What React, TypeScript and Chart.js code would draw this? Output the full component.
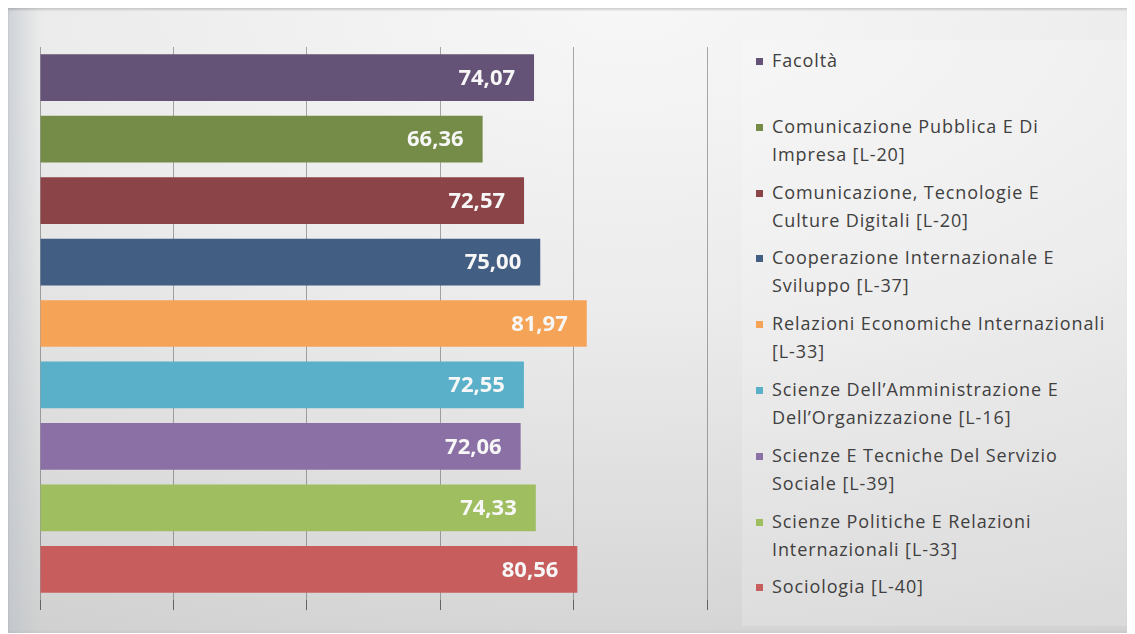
import React, { useEffect, useRef } from "react";
import { Chart, registerables } from "chart.js";

Chart.register(...registerables);

const categories: string[] = [
  "Facoltà",
  "Comunicazione Pubblica E Di\nImpresa [L-20]",
  "Comunicazione, Tecnologie E\nCulture Digitali [L-20]",
  "Cooperazione Internazionale E\nSviluppo [L-37]",
  "Relazioni Economiche Internazionali\n[L-33]",
  "Scienze Dell’Amministrazione E\nDell’Organizzazione [L-16]",
  "Scienze E Tecniche Del Servizio\nSociale [L-39]",
  "Scienze Politiche E Relazioni\nInternazionali [L-33]",
  "Sociologia [L-40]",
];

const values: number[] = [74.07, 66.36, 72.57, 75.0, 81.97, 72.55, 72.06, 74.33, 80.56];

const colors: string[] = [
  "#655277",
  "#758b48",
  "#8b4447",
  "#435e83",
  "#f5a356",
  "#5ab0c8",
  "#8b70a5",
  "#9ebe5f",
  "#c75d5d",
];

const axisMin = 0;
const axisMax = 100;
const axisStep = 20;

const fmt = (v: number) => v.toFixed(2).replace(".", ",");

const labelPlugin = {
  id: "barValueLabels",
  afterDraw(chart: any) {
    const ctx = chart.ctx;
    const meta = chart.getDatasetMeta(0);
    ctx.save();
    ctx.font = "bold 22px 'Open Sans'";
    ctx.fillStyle = "#f7f7f7";
    ctx.textAlign = "right";
    ctx.textBaseline = "middle";
    meta.data.forEach((bar: any, i: number) => {
      ctx.fillText(fmt(values[i]), bar.x - 19, bar.y + 1);
    });
    ctx.restore();
  },
};

export default function App() {
  const canvasRef = useRef<HTMLCanvasElement | null>(null);

  useEffect(() => {
    document.body.style.overflow = "hidden";
    if (!canvasRef.current) return;
    const chart = new Chart(canvasRef.current, {
      type: "bar",
      data: {
        labels: categories.map((c) => c.replace("\n", " ")),
        datasets: [
          {
            data: values,
            backgroundColor: colors,
            borderWidth: 0,
            barPercentage: 0.76,
            categoryPercentage: 1,
          },
        ],
      },
      options: {
        indexAxis: "y",
        animation: false,
        responsive: true,
        maintainAspectRatio: false,
        layout: { padding: { left: 32, right: 13, top: 39, bottom: 22 } },
        plugins: {
          legend: { display: false },
          tooltip: { enabled: false },
        },
        scales: {
          x: {
            min: axisMin,
            max: axisMax,
            z: 1,
            ticks: { stepSize: axisStep, display: false },
            grid: {
              color: "rgba(70,70,70,0.45)",
              lineWidth: 1,
              drawTicks: true,
              tickLength: 10,
              tickColor: "rgba(60,60,60,0.75)",
            },
            border: { display: false },
          },
          y: {
            display: false,
            grid: { display: false },
          },
        },
      },
      plugins: [labelPlugin],
    });
    return () => chart.destroy();
  }, []);

  return (
    <div
      style={{
        position: "relative",
        width: 1124,
        height: 625,
        background:
          "linear-gradient(to right, rgba(185,192,200,0.55) 0px, rgba(200,200,200,0) 34px), radial-gradient(ellipse 120% 110% at 55% 0%, #f7f7f7 0%, #ebebeb 45%, #d1d1d1 100%)",
        boxShadow: "inset 0 2px 2px rgba(0,0,0,0.12), inset -3px 0 4px rgba(0,0,0,0.08)",
        overflow: "hidden",
      }}
    >
      <div
        style={{
          position: "absolute",
          left: 734,
          top: 32,
          width: 388,
          height: 586,
          background: "rgba(255,255,255,0.18)",
        }}
      />
      <div style={{ position: "absolute", left: 0, top: 0, width: 712, height: 624 }}>
        <canvas ref={canvasRef} />
      </div>
      <div
        style={{
          position: "absolute",
          left: 748,
          top: 38,
          fontFamily: "'Open Sans', sans-serif",
          fontSize: 18,
          lineHeight: "28px",
          color: "#404040",
          letterSpacing: 0.9,
        }}
      >
        {categories.map((c, i) => (
          <div key={i} style={{ display: "flex", height: 65.8 }}>
            <span
              style={{
                display: "inline-block",
                width: 7,
                height: 7,
                marginTop: 12,
                marginRight: 9,
                flex: "0 0 auto",
                background: colors[i],
              }}
            />
            <span style={{ whiteSpace: "pre-line" }}>{c}</span>
          </div>
        ))}
      </div>
    </div>
  );
}
